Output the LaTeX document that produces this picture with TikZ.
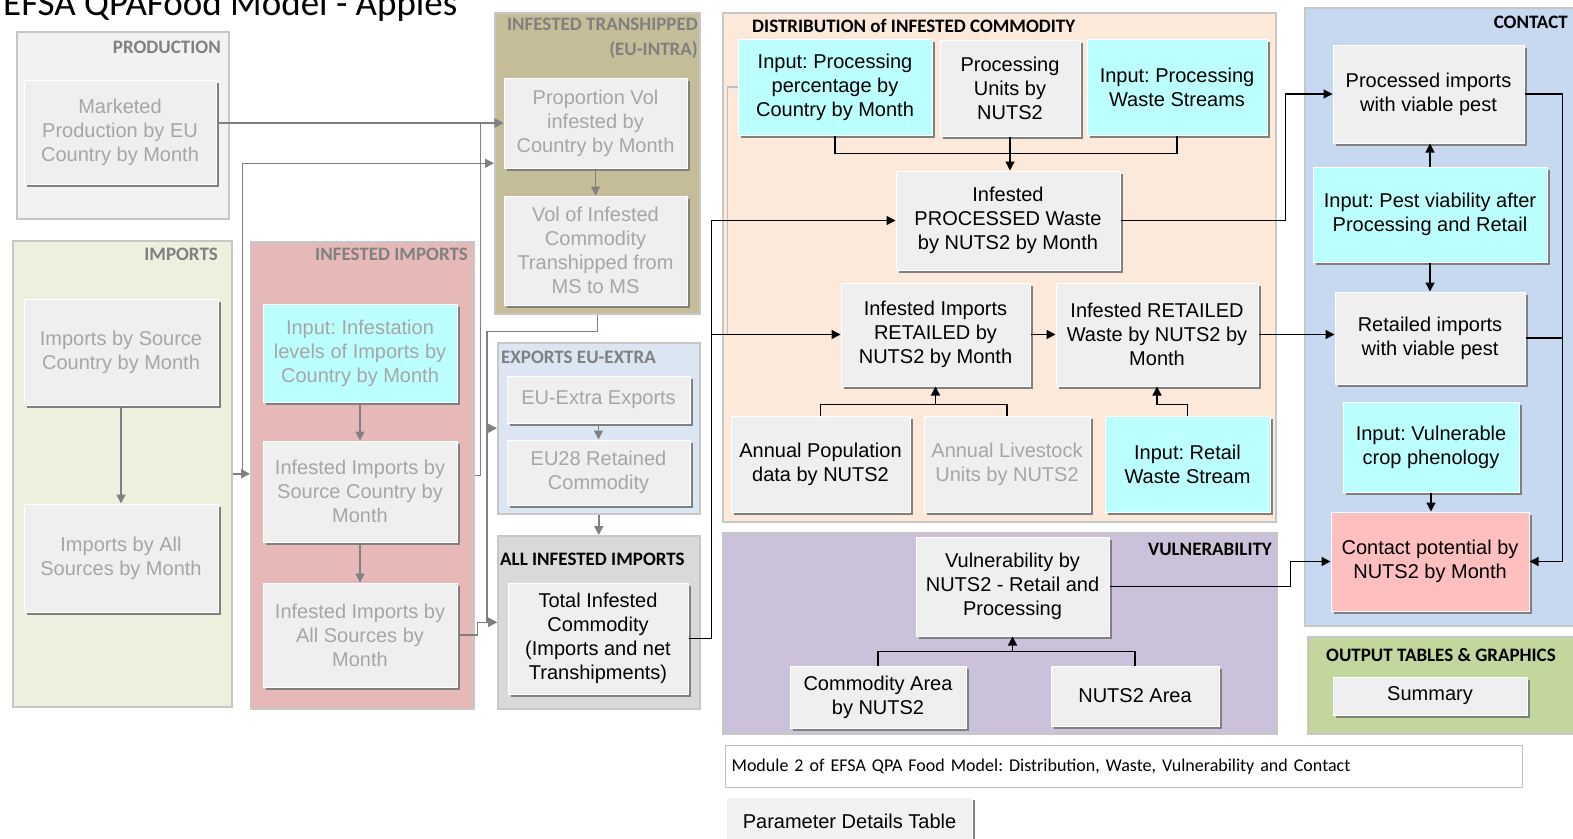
\documentclass[tikz,border=0pt]{standalone}
\usepackage{fontspec}
\setmainfont{Liberation Sans}
\newfontfamily\calfont{Carlito}
\usetikzlibrary{arrows.meta,calc,shadows}
\frenchspacing

\definecolor{prodfill}{HTML}{F2F2F2}
\definecolor{impfill}{HTML}{EBF1DE}
\definecolor{inffill}{HTML}{E6B9B8}
\definecolor{tranfill}{HTML}{C4BD97}
\definecolor{expfill}{HTML}{DCE6F2}
\definecolor{allfill}{HTML}{D9D9D9}
\definecolor{distfill}{HTML}{FDE9D9}
\definecolor{vulfill}{HTML}{CCC1DA}
\definecolor{contfill}{HTML}{C6D9F1}
\definecolor{outfill}{HTML}{C3D69B}
\definecolor{cyanfill}{HTML}{BBFFFF}
\definecolor{pinkfill}{HTML}{FFBFBF}
\definecolor{boxfill}{HTML}{EFEFEF}

\tikzset{
  sz/.style 2 args={minimum width=#1, minimum height=#2},
  grp/.style={draw=black!22, line width=1.5pt, fill=#1, anchor=north west, inner sep=0pt},
  grptitle/.style={font=\calfont\bfseries\fontsize{19}{25}\selectfont, text=black!50, inner sep=0pt},
  box/.style={fill=boxfill, draw=white, line width=1pt, align=center, inner sep=2pt,
    font=\fontsize{20}{24}\selectfont,
    drop shadow={shadow xshift=2.5pt, shadow yshift=-2.5pt, fill=black!50, opacity=1}},
  faded/.style={text=black!35},
  gline/.style={draw=black!50, line width=1.5pt},
  garrow/.style={gline, -{Triangle[length=9pt,width=9pt]}},
  bline/.style={draw=black, line width=1.4pt},
  barrow/.style={bline, -{Triangle[length=9pt,width=9pt]}}
}

\begin{document}
\begin{tikzpicture}[x=1pt,y=-1pt]
\useasboundingbox (0,0) rectangle (1573,838);

\node [anchor=base west, inner sep=0pt, font=\calfont\fontsize{37}{40}\selectfont] (title) at (3,15) {EFSA QPAFood Model - Apples};

\node [grp=prodfill, sz={212}{187}] (prodgrp) at (16,31) {};
\node [grp=impfill, sz={219}{466}] (impgrp) at (12,240) {};
\node [grp=inffill, sz={223}{467}] (infgrp) at (250,241) {};
\node [grp=tranfill, sz={205}{301}] (trangrp) at (494,12) {};
\node [grp=expfill, sz={202}{171}] (expgrp) at (497,342) {};
\node [grp=allfill, sz={202}{173}] (allgrp) at (497,535) {};
\node [grp=distfill, sz={553}{509}] (distgrp) at (722,12) {};
\node [grp=vulfill, sz={554}{201}] (vulgrp) at (722,532) {};
\node [grp=contfill, sz={280}{618}] (contgrp) at (1304,7) {};
\node [grp=outfill, sz={280}{97}] (outgrp) at (1307,636) {};

\node [grptitle, anchor=east] (prodtitle) at (221,47) {PRODUCTION};
\node [grptitle, anchor=east] (imptitle) at (218,254) {IMPORTS};
\node [grptitle, anchor=east] (inftitle) at (468,254) {INFESTED IMPORTS};
\node [grptitle, anchor=north east, align=right] (trantitle) at (698,18) {INFESTED TRANSHIPPED\\(EU-INTRA)};
\node [grptitle, anchor=west] (exptitle) at (501,357) {EXPORTS EU-EXTRA};
\node [grptitle, anchor=west, text=black] (alltitle) at (500,559) {ALL INFESTED IMPORTS};
\node [grptitle, anchor=west, text=black] (disttitle) at (752,26) {DISTRIBUTION of INFESTED COMMODITY};
\node [grptitle, anchor=east, text=black] (vultitle) at (1272,549) {VULNERABILITY};
\node [grptitle, anchor=east, text=black] (conttitle) at (1568,22) {CONTACT};
\node [grptitle, anchor=west, text=black] (outtitle) at (1326,655) {OUTPUT TABLES \& GRAPHICS};

\node [box, faded, sz={192}{104}] (market) at (120,132) {Marketed\\Production by EU\\Country by Month};
\node [box, faded, sz={194}{106}] (impsrc) at (121,352) {Imports by Source\\Country by Month};
\node [box, faded, sz={194}{108}] (impall) at (121,558) {Imports by All\\Sources by Month};
\node [box, faded, fill=cyanfill, sz={194}{98}] (infinput) at (360,353) {Input: Infestation\\levels of Imports by\\Country by Month};
\node [box, faded, sz={194}{101}] (infsrc) at (360,491.5) {Infested Imports by\\Source Country by\\Month};
\node [box, faded, sz={194}{104}] (infall) at (360,635) {Infested Imports by\\All Sources by\\Month};
\node [box, faded, sz={183}{90}] (propvol) at (595.5,123) {Proportion Vol\\infested by\\Country by Month};
\node [box, faded, sz={183}{109}] (volinf) at (595.5,250.5) {Vol of Infested\\Commodity\\Transhipped from\\MS to MS};
\node [box, faded, sz={183}{47}] (euext) at (598.5,399.5) {EU-Extra Exports};
\node [box, faded, sz={183}{65}] (retained) at (598.5,472.5) {EU28 Retained\\Commodity};
\node [box, sz={180}{111}] (total) at (598,638.5) {Total Infested\\Commodity\\(Imports and net\\Transhipments)};

\node [box, fill=cyanfill, sz={194}{96}] (procpct) at (835,87) {Input: Processing\\percentage by\\Country by Month};
\node [box, sz={140}{96}] (procunits) at (1010,88) {Processing\\Units by\\NUTS2};
\node [box, fill=cyanfill, sz={180}{96}] (wastestr) at (1177,87) {Input: Processing\\Waste Streams};
\node [box, sz={224}{99}] (processed) at (1008,220.5) {Infested\\PROCESSED Waste\\by NUTS2 by Month};
\node [box, sz={189}{103}] (retailed) at (935.5,334.5) {Infested Imports\\RETAILED by\\NUTS2 by Month};
\node [box, sz={202}{103}] (retwaste) at (1157,334.5) {Infested RETAILED\\Waste by NUTS2 by\\Month};
\node [box, sz={179}{96}] (population) at (820.5,464) {Annual Population\\data by NUTS2};
\node [box, faded, sz={166}{96}] (livestock) at (1007,464) {Annual Livestock\\Units by NUTS2};
\node [box, fill=cyanfill, sz={165}{96}] (retailws) at (1187.5,464) {Input: Retail\\Waste Stream};

\node [box, sz={193}{99}] (vulner) at (1012.5,586.5) {Vulnerability by\\NUTS2 - Retail and\\Processing};
\node [box, sz={176}{62}] (comarea) at (878,697) {Commodity Area\\by NUTS2};
\node [box, sz={168}{60}] (nutsarea) at (1135,696) {NUTS2 Area};

\node [box, sz={191}{98}] (procviable) at (1428.5,94) {Processed imports\\with viable pest};
\node [box, fill=cyanfill, sz={234}{95}] (pestviab) at (1430,214.5) {Input: Pest viability after\\Processing and Retail};
\node [box, sz={190}{92}] (retviable) at (1430,338) {Retailed imports\\with viable pest};
\node [box, fill=cyanfill, sz={176}{90}] (phenology) at (1431,447) {Input: Vulnerable\\crop phenology};
\node [box, fill=pinkfill, sz={198}{99}] (contact) at (1430,561.5) {Contact potential by\\NUTS2 by Month};
\node [box, sz={194}{38}] (summary) at (1430,696) {Summary};

\node [draw=black!25, line width=1.2pt, fill=white, anchor=north west, sz={797}{42}, text width=785, inner xsep=6pt, align=left, font=\calfont\fontsize{18}{21}\selectfont] (caption) at (725,745) {Module 2 of EFSA QPA Food Model: Distribution, Waste, Vulnerability and Contact};
\node [box, fill=prodfill, anchor=north west, sz={246}{48}] (params) at (726,797) {Parameter Details Table};

\draw [garrow] (market.east |- propvol.west) -- (propvol.west);
\draw [garrow] (infgrp.east) -- ++(6,0) |- (propvol.west);
\draw [garrow] (impgrp.east) -- (impgrp.east -| infgrp.west);
\draw [garrow] (impgrp.east) -- ++(10,0) |- (trangrp.west);
\draw [garrow] (impsrc.south) -- (impall.north);
\draw [garrow] (infinput.south) -- (infsrc.north);
\draw [garrow] (infsrc.south) -- (infall.north);
\draw [garrow] (propvol.south) -- (volinf.north);
\draw [garrow] (euext.south) -- (retained.north);
\draw [garrow] (expgrp.south) -- (allgrp.north);
\draw [garrow] (trangrp.south) -- ++(0,17) -| ([xshift=-10pt]allgrp.west) -- (allgrp.west);
\draw [garrow] ([xshift=-10pt]expgrp.west) -- (expgrp.west);
\draw [garrow] (infall.east) -- ++(20,0) |- (allgrp.west);

\draw [gline, draw=black!25] (procpct.west) -- ++(-10,0) |- (retailed.west);
\draw [barrow] (total.east) -- ++(23,0) |- (processed.west);
\draw [barrow] (total.east) -- ++(23,0) |- (retailed.west);
\draw [bline] (procpct.south) -- ++(0,18) -| (wastestr.south);
\draw [barrow] (procunits.south) -- (procunits.south |- processed.north);
\draw [barrow] (processed.east) -- ++(165,0) |- (procviable.west);
\draw [barrow] (retailed.east) -- (retwaste.west);
\draw [barrow] (retwaste.east) -- (retwaste.east -| retviable.west);
\draw [bline] (population.north) -- ++(0,-11) -| (livestock.north);
\draw [barrow] ($(population.north -| retailed.south)+(0,-11)$) -- (retailed.south);
\draw [barrow] (retailws.north) -- ++(0,-11) -| (retwaste.south);

\draw [barrow] (pestviab.north) -- (pestviab.north |- procviable.south);
\draw [barrow] (pestviab.south) -- (retviable.north);
\draw [barrow] (phenology.south) -- (phenology.south |- contact.north);
\draw [barrow] (procviable.east) -- ++(38,0) |- (contact.east);
\draw [bline] (retviable.east) -- ++(37,0);
\draw [barrow] (vulner.east) -- ++(181,0) |- (contact.west);
\draw [bline] (comarea.north) -- ++(0,-14) -| (nutsarea.north);
\draw [barrow] ($(comarea.north -| vulner.south)+(0,-14)$) -- (vulner.south);

\end{tikzpicture}
\end{document}
